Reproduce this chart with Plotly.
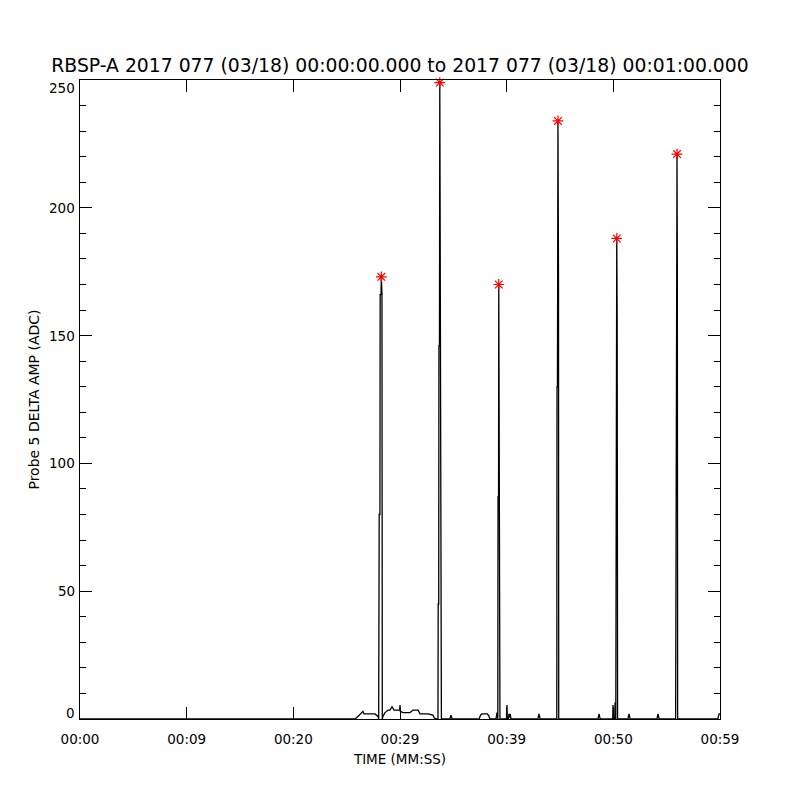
import plotly.graph_objects as go

# ---- data (seconds after 00:00:00, ADC counts) ----
time_s = [
    0.00, 25.78, 26.06, 26.53, 26.63, 27.66, 27.94, 28.00,
    28.05, 28.12, 28.14, 28.22, 28.25, 28.31, 28.34, 28.40,
    28.59, 28.88, 29.06, 29.25, 29.44, 29.53, 29.97, 30.00, 30.03, 30.28,
    30.94, 31.22, 31.41, 31.69, 31.875, 32.16, 32.63, 33.09, 33.20, 33.375, 33.56,
    33.58, 33.63, 33.65, 33.70, 33.73, 33.78, 33.82, 33.86, 33.88,
    34.68, 34.78, 34.88,
    37.41, 37.55, 37.69, 38.16, 38.30, 38.44,
    39.00, 39.09, 39.12, 39.17, 39.19, 39.24, 39.26, 39.30, 39.35, 39.37,
    39.98, 40.03, 40.06, 40.16, 40.22, 40.28, 40.34, 40.40,
    42.93, 43.03, 43.13,
    44.70, 44.72, 44.76, 44.78, 44.81, 44.86, 44.88,
    48.56, 48.66, 48.76,
    49.94, 49.97, 50.00, 50.13, 50.16, 50.20, 50.23, 50.25, 50.29, 50.32, 50.36, 50.40,
    51.37, 51.47, 51.57,
    54.09, 54.19, 54.29,
    55.84, 55.86, 55.90, 55.92, 55.97, 56.00, 56.03,
    59.80, 59.91, 60.00,
]
amp_adc = [
    0, 0, 1.0, 3.0, 2.0, 2.0, 1.0, 0,
    80, 80, 166, 166, 173, 166, 0, 1.0,
    2.5, 3.5, 3.5, 4.8, 3.5, 3.5, 3.5, 5.5, 3.0, 2.5,
    2.5, 3.5, 3.5, 3.5, 2.0, 2.0, 2.0, 1.5, 0.5, 0, 0,
    45, 45, 146, 146, 249, 146, 22, 22, 0,
    0, 1.5, 0,
    0, 1.5, 2.0, 2.0, 1.5, 0,
    0, 2.5, 0, 0, 87, 87, 170, 72, 72, 0,
    0, 5.5, 0, 0, 2.0, 0.5, 2.0, 0,
    0, 2.0, 0,
    0, 130, 130, 172, 234, 172, 0,
    0, 2.0, 0,
    0, 5.5, 0, 0, 6.5, 0, 0, 63, 157, 188, 157, 0,
    0, 2.0, 0,
    0, 2.0, 0,
    0, 67, 67, 178, 221, 178, 0,
    0, 2.0, 2.0,
]
peak_time = [28.25, 33.73, 39.26, 44.81, 50.32, 55.97]
peak_amp = [173, 249, 170, 234, 188, 221]

x_tickvals = [0, 10, 20, 30, 40, 50, 60]
x_ticktext = ["00:00", "00:09", "00:20", "00:29", "00:39", "00:50", "00:59"]
y_tickvals = [0, 50, 100, 150, 200, 250]
y_ticktext = ["0", "50", "100", "150", "200", "250"]

title_text = "RBSP-A 2017 077 (03/18) 00:00:00.000 to 2017 077 (03/18) 00:01:00.000"
font_family = "DejaVu Sans"

fig = go.Figure()
fig.add_trace(go.Scatter(
    x=time_s, y=amp_adc, mode="lines",
    line=dict(color="black", width=1.3), showlegend=False, hoverinfo="skip",
))
fig.add_trace(go.Scatter(
    x=peak_time, y=peak_amp, mode="markers",
    marker=dict(symbol="asterisk-open", size=9, color="red",
                line=dict(color="red", width=1.2)),
    showlegend=False, cliponaxis=False,
))

# y tick labels as text next to the axis; the end labels sit inside the axis span
for val, txt in zip(y_tickvals, y_ticktext):
    if val == y_tickvals[-1]:
        yanchor = "top"
        yshift = 2
    elif val == y_tickvals[0]:
        yanchor = "bottom"
        yshift = -4
    else:
        yanchor = "middle"
        yshift = 0
    fig.add_annotation(
        x=0, xref="paper", y=val, yref="y", text=txt, showarrow=False,
        xanchor="right", yanchor=yanchor, xshift=-3, yshift=yshift,
        font=dict(size=13.5, family=font_family, color="black"),
    )

# the page body adds an 8 px offset, so margins are shifted by 8 px
fig.update_layout(
    width=800, height=800,
    paper_bgcolor="white", plot_bgcolor="white",
    margin=dict(l=72, r=88, t=72, b=89),
    font=dict(family=font_family, color="black", size=13.5),
    title=dict(text=title_text, x=(400 - 8) / 800, xanchor="center", y=1 - 57 / 800,
               yanchor="middle", font=dict(size=18.8, family=font_family, color="black")),
)
fig.update_xaxes(
    range=[0, 60], tickvals=x_tickvals, ticktext=x_ticktext,
    showgrid=False, zeroline=False, showline=True, linecolor="black", linewidth=1,
    mirror="allticks", ticks="inside", ticklen=12, tickcolor="black", tickwidth=1,
    ticklabelstandoff=8,
    tickfont=dict(size=13.5),
    title=dict(text="TIME (MM:SS)", font=dict(size=13.5), standoff=8),
)
fig.update_yaxes(
    range=[0, 250], tickvals=y_tickvals, showticklabels=False,
    showgrid=False, zeroline=False, showline=True, linecolor="black", linewidth=1,
    mirror="allticks", ticks="inside", ticklen=12, tickcolor="black", tickwidth=1,
    minor=dict(dtick=10, ticks="inside", ticklen=6, tickcolor="black", tickwidth=1, showgrid=False),
    title=dict(text="Probe 5 DELTA AMP (ADC)", font=dict(size=14), standoff=36),
)

fig.write_html("out.html")
